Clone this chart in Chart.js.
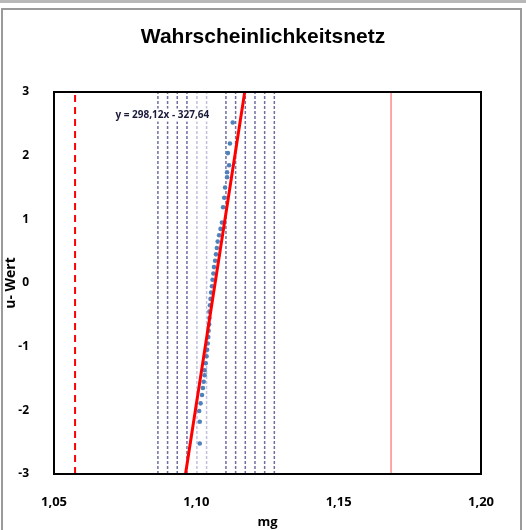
<!DOCTYPE html>
<html>
<head>
<meta charset="utf-8">
<script src="https://cdn.jsdelivr.net/npm/chart.js@4.4.1/dist/chart.umd.min.js"></script>
<style>
  html, body { margin: 0; padding: 0; background: #fff; }
  #wrap { position: relative; width: 526px; height: 530px; overflow: hidden; }
  #topband { position: absolute; left: 0; top: 0; width: 526px; height: 3px; background: #b8b8b8; }
  #frame { position: absolute; left: 1px; top: 8px; width: 517px; height: 540px;
           border: 2px solid #9a9a9a; pointer-events: none; }
  canvas { position: absolute; left: 0; top: 0; }
</style>
</head>
<body>
<div id="wrap">
  <div id="topband"></div>
  <canvas id="chart" width="526" height="530"></canvas>
  <div id="frame"></div>
</div>
<script>
const sampleX = [1.1012, 1.1012, 1.1010, 1.1015, 1.1020, 1.1023, 1.1026, 1.1029, 1.1029, 1.1033,
                 1.1036, 1.1038, 1.1040, 1.1042, 1.1043, 1.1045, 1.1046, 1.1046, 1.1048, 1.1050,
                 1.1052, 1.1055, 1.1057, 1.1060, 1.1062, 1.1066, 1.1069, 1.1072, 1.1075, 1.1080,
                 1.1085, 1.1090, 1.1094, 1.1098, 1.1101, 1.1108, 1.1108, 1.1115, 1.1111, 1.1118, 1.1128];
const sampleU = [-2.52, -2.18, -2.01, -1.89, -1.76, -1.65, -1.55, -1.45, -1.37, -1.26,
                 -1.15, -1.05, -0.95, -0.85, -0.75, -0.65, -0.55, -0.45, -0.35, -0.25,
                 -0.15, -0.05, 0.05, 0.15, 0.25, 0.35, 0.45, 0.55, 0.65, 0.75,
                 0.85, 0.95, 1.19, 1.34, 1.50, 1.66, 1.74, 1.85, 2.04, 2.19, 2.52];

// Klassengrenzen (gestrichelt)
const classBounds = [1.0865, 1.0899, 1.0933, 1.0967, 1.1104, 1.1138, 1.1172, 1.1206, 1.1240, 1.1274];
const classBoundsFaint = [1.1002, 1.1036];

// Toleranzgrenzen
const lowerLimit = 1.0574;
const upperLimit = 1.1684;

// Ausgleichsgerade
const trendX = [1.0962, 1.1170];
const trendU = [-3, 3];
const trendLabel = 'y = 298,12x - 327,64';

const xMin = 1.05, xMax = 1.20, xStep = 0.05;
const yMin = -3, yMax = 3, yStep = 1;

function vline(x, color, width, dash, order) {
    return {
        data: [{x: x, y: yMin}, {x: x, y: yMax}],
        showLine: true, pointRadius: 0, borderColor: color, borderWidth: width,
        borderDash: dash, order: order
    };
}

const datasets = [];
datasets.push({
    data: trendX.map((x, i) => ({x: x, y: trendU[i]})),
    showLine: true, pointRadius: 0, borderColor: '#ff0000', borderWidth: 3, order: 0
});
datasets.push({
    data: sampleX.map((x, i) => ({x: x, y: sampleU[i]})),
    pointRadius: 2.3, pointBackgroundColor: '#4f81bd', pointBorderWidth: 0, order: 1
});
datasets.push(vline(lowerLimit, '#ff0000', 2, [7, 5], 2));
datasets.push(vline(upperLimit, '#ff5050', 1, [], 2));
classBounds.forEach(x => datasets.push(vline(x, 'rgba(85,85,145,0.85)', 1.5, [3, 2], 3)));
classBoundsFaint.forEach(x => datasets.push(vline(x, 'rgba(150,150,200,0.6)', 1.5, [3, 2], 3)));

// Rahmen um die Zeichenflaeche + Formeltext
const framePlugin = {
    id: 'framePlugin',
    afterDraw(chart) {
        const {ctx, chartArea: a, scales} = chart;
        ctx.save();
        ctx.strokeStyle = '#000';
        ctx.lineWidth = 2;
        ctx.strokeRect(a.left, a.top, a.right - a.left, a.bottom - a.top);

        ctx.font = 'bold 10px "Open Sans", "Liberation Sans", sans-serif';
        const tx = scales.x.getPixelForValue(1.0716);
        const ty = scales.y.getPixelForValue(2.63);
        const w = ctx.measureText(trendLabel).width;
        ctx.fillStyle = '#fff';
        ctx.fillRect(tx - 1, ty - 7, w + 2, 13);
        ctx.fillStyle = '#1a1a3a';
        ctx.textBaseline = 'middle';
        ctx.fillText(trendLabel, tx, ty);
        ctx.restore();
    }
};

const xTickFont = { family: '"Open Sans", "Liberation Sans", sans-serif', size: 13, weight: 'bold' };
const yTickFont = { family: '"Open Sans", "Liberation Sans", sans-serif', size: 12, weight: 'bold' };

new Chart(document.getElementById('chart'), {
    type: 'scatter',
    data: { datasets: datasets },
    options: {
        responsive: false,
        animation: false,
        layout: { padding: 0 },
        plugins: {
            legend: { display: false },
            tooltip: { enabled: false },
            title: {
                display: true,
                text: 'Wahrscheinlichkeitsnetz',
                color: '#000',
                font: { family: '"Liberation Sans", Arial, sans-serif', size: 21, weight: 'bold' },
                padding: { top: 25, bottom: 41.8 }
            }
        },
        scales: {
            x: {
                type: 'linear', min: xMin, max: xMax,
                afterFit: s => { s.height = 56; },
                grid: { display: false },
                border: { display: false },
                ticks: {
                    stepSize: xStep, padding: 12, color: '#000', font: xTickFont,
                    callback: v => v.toFixed(2).replace('.', ',')
                },
                title: {
                    display: true, text: 'mg', color: '#000',
                    font: { family: '"Open Sans", sans-serif', size: 13, weight: 'bold' },
                    padding: 0
                }
            },
            y: {
                min: yMin, max: yMax,
                afterFit: s => { s.width = 54; },
                grid: { display: false },
                border: { display: false },
                ticks: { stepSize: yStep, padding: 17, color: '#000', font: yTickFont },
                title: {
                    display: true, text: 'u- Wert', color: '#000',
                    font: { family: '"Open Sans", sans-serif', size: 14, weight: 'bold' },
                    padding: { top: 3, bottom: 0 }
                }
            },
            yRight: {
                position: 'right',
                afterFit: s => { s.width = 45; },
                grid: { display: false },
                border: { display: false },
                ticks: { display: false }
            }
        }
    },
    plugins: [framePlugin]
});
</script>
</body>
</html>
